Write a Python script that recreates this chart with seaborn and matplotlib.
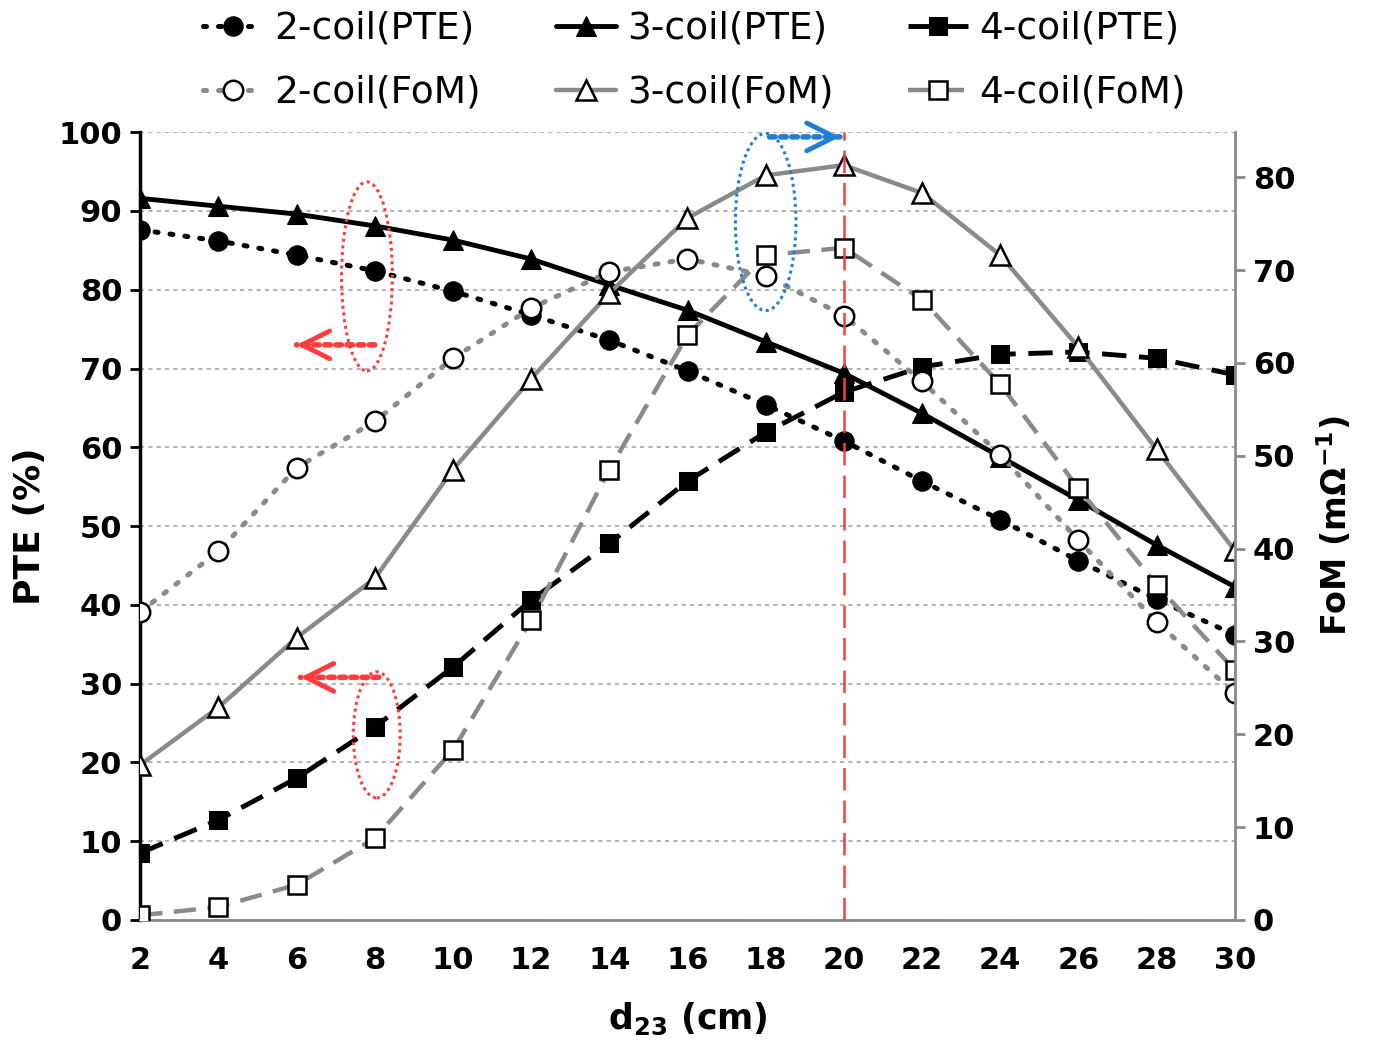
import matplotlib
matplotlib.use('Agg')
import matplotlib.pyplot as plt
import seaborn as sns
import pandas as pd
from matplotlib.patches import Ellipse

# distance d23 (cm)
d23 = [2, 4, 6, 8, 10, 12, 14, 16, 18, 20, 22, 24, 26, 28, 30]

# PTE (%) - left axis
pte_2coil = [87.6, 86.2, 84.4, 82.4, 79.8, 76.8, 73.6, 69.7, 65.4, 60.8, 55.7, 50.8, 45.6, 40.7, 36.2]
pte_3coil = [91.6, 90.6, 89.6, 88.1, 86.3, 83.9, 80.6, 77.4, 73.4, 69.4, 64.3, 58.8, 53.3, 47.6, 42.3]
pte_4coil = [8.5, 12.7, 18.0, 24.5, 32.1, 40.6, 47.8, 55.7, 61.9, 67.0, 70.2, 71.8, 72.1, 71.3, 69.2]

# FoM (1/mOhm) - right axis
fom_2coil = [33.2, 39.7, 48.7, 53.7, 60.5, 65.9, 69.8, 71.2, 69.4, 65.1, 58.0, 50.1, 40.9, 32.1, 24.4]
fom_3coil = [16.7, 22.9, 30.4, 36.8, 48.5, 58.3, 67.5, 75.6, 80.2, 81.3, 78.3, 71.6, 61.7, 50.7, 39.8]
fom_4coil = [0.5, 1.4, 3.8, 8.8, 18.3, 32.3, 48.5, 63.0, 71.6, 72.4, 66.8, 57.7, 46.5, 36.1, 26.9]

optimum_d23 = 20

df = pd.DataFrame({'d23': d23,
                   'pte2': pte_2coil, 'pte3': pte_3coil, 'pte4': pte_4coil,
                   'fom2': fom_2coil, 'fom3': fom_3coil, 'fom4': fom_4coil})

sns.set_style('white')
plt.rcParams['font.family'] = ['DejaVu Sans']
plt.rcParams['text.color'] = 'black'
plt.rcParams['axes.labelcolor'] = 'black'
plt.rcParams['xtick.color'] = 'black'
plt.rcParams['ytick.color'] = 'black'

GRAY = '#8a8a8a'
RED = '#ff3b3b'
BLUE = '#1f7fd6'

fig = plt.figure(figsize=(13.75, 10.49), dpi=100)
ax = fig.add_axes([0.102, 0.123, 0.796, 0.751])
ax2 = ax.twinx()

dotted = (0, (0.6, 2.4))
dashed = (0, (5, 2.6))

# PTE curves
sns.lineplot(data=df, x='d23', y='pte2', ax=ax, color='black', lw=3.6, linestyle=dotted,
             dash_capstyle='round', marker='o', ms=14, mec='black', mfc='black',
             label='2-coil(PTE)', errorbar=None)
sns.lineplot(data=df, x='d23', y='pte3', ax=ax, color='black', lw=3.5, linestyle='-',
             marker='^', ms=15, mec='black', mfc='black',
             label='3-coil(PTE)', errorbar=None)
sns.lineplot(data=df, x='d23', y='pte4', ax=ax, color='black', lw=3.5, linestyle=dashed,
             marker='s', ms=13, mec='black', mfc='black',
             label='4-coil(PTE)', errorbar=None)

# FoM curves
sns.lineplot(data=df, x='d23', y='fom2', ax=ax2, color=GRAY, lw=3.6, linestyle=dotted,
             dash_capstyle='round', marker='o', ms=14, mec='black', mfc='white', mew=1.8,
             label='2-coil(FoM)', errorbar=None)
sns.lineplot(data=df, x='d23', y='fom3', ax=ax2, color=GRAY, lw=3.2, linestyle='-',
             marker='^', ms=15, mec='black', mfc='white', mew=1.8,
             label='3-coil(FoM)', errorbar=None)
sns.lineplot(data=df, x='d23', y='fom4', ax=ax2, color=GRAY, lw=3.2, linestyle=dashed,
             marker='s', ms=13, mec='black', mfc='white', mew=1.8,
             label='4-coil(FoM)', errorbar=None)

for a in (ax, ax2):
    if a.get_legend() is not None:
        a.get_legend().remove()

# axes limits and ticks
ax.set_xlim(2, 30)
ax.set_xticks(d23)
ax.set_ylim(0, 100)
ax.set_yticks(range(0, 101, 10))
ax2.set_ylim(0, 84.85)
ax2.set_yticks(range(0, 81, 10))

ax.grid(axis='y', color='#b5b5b5', linestyle=(0, (2, 2)), lw=1.5)
ax.grid(axis='x', visible=False)
ax.set_axisbelow(True)

ax.spines['top'].set_visible(False)
ax2.spines['top'].set_visible(False)
ax.spines['left'].set_color('black')
ax.spines['left'].set_linewidth(2.5)
ax.spines['bottom'].set_color(GRAY)
ax.spines['bottom'].set_linewidth(2)
ax2.spines['left'].set_visible(False)
ax2.spines['bottom'].set_visible(False)
ax2.spines['right'].set_color(GRAY)
ax2.spines['right'].set_linewidth(2)
ax.spines['right'].set_visible(False)

ax.tick_params(axis='y', direction='out', length=7, width=2, color='black', labelsize=22, pad=6)
ax.tick_params(axis='x', direction='out', length=7, width=2, color=GRAY, labelsize=22, pad=12)
ax2.tick_params(axis='y', direction='out', length=7, width=2, color=GRAY, labelsize=22, pad=6)
for lab in ax.get_xticklabels() + ax.get_yticklabels() + ax2.get_yticklabels():
    lab.set_fontweight('bold')

ax.set_xlabel(r'd$_{\mathbf{23}}$ (cm)', fontsize=25, fontweight='bold', labelpad=18)
ax.set_ylabel('PTE (%)', fontsize=26, fontweight='bold', labelpad=8)
ax2.set_ylabel(r'FoM (mΩ$^{\mathbf{-1}}$)', fontsize=24, fontweight='bold', labelpad=14)

# optimum distance marker
ax2.axvline(optimum_d23, color=RED, lw=1.8, linestyle=(0, (9, 4)), zorder=10)

# annotation ellipses and arrows (in PTE coordinates)
t = ax.transData
ax2.add_patch(Ellipse((7.8, 81.7), 1.3, 24, transform=t, fill=False, ec=RED,
                      lw=2.2, linestyle=(0, (1, 1.2)), zorder=11))
ax2.add_patch(Ellipse((8.05, 23.5), 1.2, 16, transform=t, fill=False, ec=RED,
                      lw=2.2, linestyle=(0, (1, 1.2)), zorder=11))
ax2.add_patch(Ellipse((18.0, 88.6), 1.55, 22.5, transform=t, fill=False, ec=BLUE,
                      lw=2.2, linestyle=(0, (1, 1.2)), zorder=11))


def dotted_arrow(x0, x1, y, color):
    ax2.annotate('', xy=(x1, y), xytext=(x0, y), xycoords=t, textcoords=t,
                 arrowprops=dict(arrowstyle='-', color=color, lw=4,
                                 linestyle=(0, (1, 1)), shrinkA=0, shrinkB=0),
                 zorder=12)
    step = 0.3 if x1 > x0 else -0.3
    ax2.annotate('', xy=(x1, y), xytext=(x1 - step, y), xycoords=t, textcoords=t,
                 arrowprops=dict(arrowstyle='->,head_length=2.0,head_width=1.0',
                                 color=color, lw=3.5, shrinkA=0, shrinkB=0),
                 zorder=12)


dotted_arrow(8.0, 6.0, 73.0, RED)
dotted_arrow(8.1, 6.1, 30.8, RED)
dotted_arrow(18.1, 19.9, 99.4, BLUE)

# legend on top: row 1 PTE, row 2 FoM
h1, l1 = ax.get_legend_handles_labels()
h2, l2 = ax2.get_legend_handles_labels()
handles, labels = [], []
for i in range(3):
    handles += [h1[i], h2[i]]
    labels += [l1[i], l2[i]]
fig.legend(handles, labels, loc='upper center', bbox_to_anchor=(0.505, 1.022), ncol=3,
           frameon=False, fontsize=27, handlelength=1.6, handletextpad=0.3,
           columnspacing=2.0, labelspacing=0.75)

fig.savefig('out.png', dpi=100)
